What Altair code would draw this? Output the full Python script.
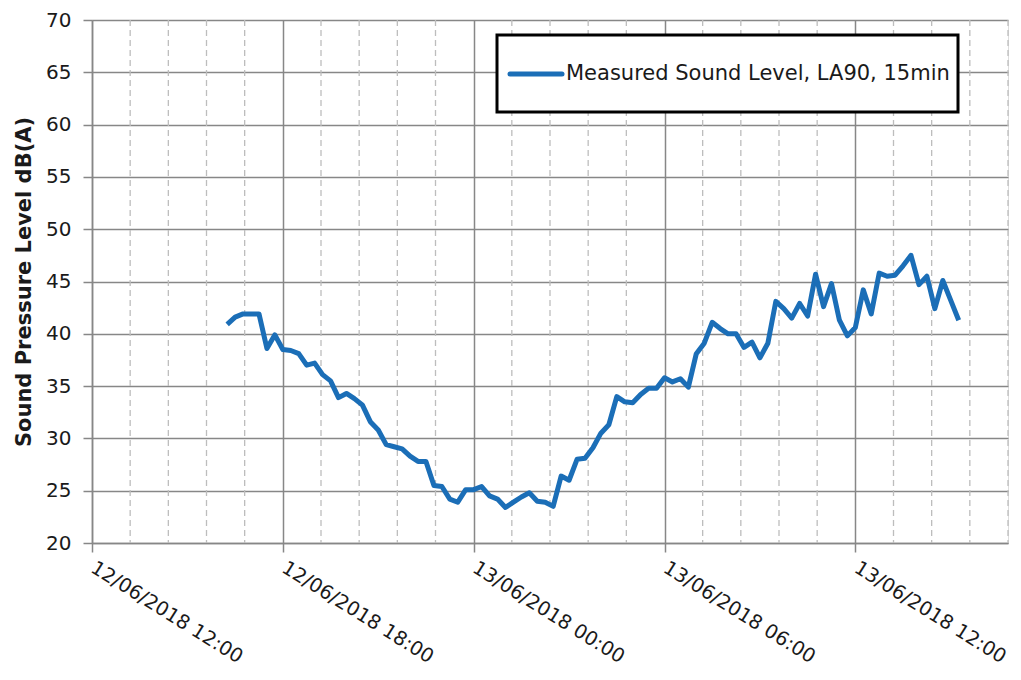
import altair as alt
import pandas as pd

# 15-minute LA90 levels, 12/06/2018 16:15 -> 13/06/2018 15:15
levels = [40.9, 41.6, 41.9, 41.9, 41.9, 38.6, 39.9, 38.5, 38.4, 38.1,
          37.0, 37.2, 36.1, 35.5, 33.9, 34.3, 33.8, 33.2, 31.6, 30.8,
          29.4, 29.2, 29.0, 28.3, 27.8, 27.8, 25.5, 25.4, 24.2, 23.9,
          25.1, 25.1, 25.4, 24.5, 24.2, 23.4, 23.9, 24.4, 24.8, 24.0,
          23.9, 23.5, 26.4, 26.0, 28.0, 28.1, 29.1, 30.5, 31.3, 34.0,
          33.5, 33.4, 34.2, 34.8, 34.8, 35.8, 35.4, 35.7, 34.9, 38.1,
          39.1, 41.1, 40.5, 40.0, 40.0, 38.7, 39.2, 37.7, 39.1, 43.1,
          42.4, 41.5, 42.9, 41.7, 45.7, 42.6, 44.8, 41.3, 39.8, 40.6,
          44.2, 41.9, 45.8, 45.5, 45.6, 46.5, 47.5, 44.7, 45.5, 42.4,
          45.1, 43.2, 41.3]
start_time = "2018-06-12 16:15"
times = [t.strftime("%Y-%m-%dT%H:%M:%S")
         for t in pd.date_range(start_time, periods=len(levels), freq="15min")]

major_ticks = ["2018-06-12T12:00:00", "2018-06-12T18:00:00", "2018-06-13T00:00:00",
               "2018-06-13T06:00:00", "2018-06-13T12:00:00"]
minor_all = [t.strftime("%Y-%m-%dT%H:%M:%S")
             for t in pd.date_range("2018-06-12 12:00", "2018-06-13 16:48", freq="72min")]
minor_ticks = [t for t in minor_all if t not in major_ticks]
y_ticks = [20, 25, 30, 35, 40, 45, 50, 55, 60, 65, 70]
series_name = "Measured Sound Level, LA90, 15min"

df = pd.DataFrame({"t": times, "level": levels})
minor_df = pd.DataFrame({"t": minor_ticks})
leg_df = pd.DataFrame({"label": [series_name]})

FONT = "DejaVu Sans"
GRID = "#878787"
BLUE = "#1B6EB7"
TXT = "#1a1a1a"

xscale = alt.Scale(domain=[alt.DateTime(year=2018, month=6, date=12, hours=12),
                           alt.DateTime(year=2018, month=6, date=13, hours=16, minutes=48)])
xaxis = alt.Axis(
    values=[alt.DateTime(year=2018, month=6, date=12, hours=12),
            alt.DateTime(year=2018, month=6, date=12, hours=18),
            alt.DateTime(year=2018, month=6, date=13, hours=0),
            alt.DateTime(year=2018, month=6, date=13, hours=6),
            alt.DateTime(year=2018, month=6, date=13, hours=12)],
    format="%d/%m/%Y %H:%M", title=None, labelAngle=32, labelAlign="left",
    labelBaseline="top", labelPadding=6, labelOffset=5, labelFontSize=19.5, labelFont=FONT,
    labelColor=TXT, grid=True, gridColor=GRID, gridWidth=1.5,
    domainColor=GRID, domainWidth=1.5, tickColor=GRID, tickSize=9, tickWidth=1.5,
    labelOverlap=False, labelFlush=False, labelBound=False)
yscale = alt.Scale(domain=[20, 70], nice=False, zero=False)
yaxis = alt.Axis(values=y_ticks, title="Sound Pressure Level dB(A)",
                 titleFontSize=21, titleFont=FONT, titleFontWeight="bold",
                 titleColor=TXT, titlePadding=11,
                 labelFontSize=20, labelFont=FONT, labelColor=TXT, labelPadding=12,
                 grid=True, gridColor=GRID, gridWidth=1.5, domainColor=GRID, domainWidth=1.5,
                 tickColor=GRID, tickSize=9, tickWidth=1.5)

minor = alt.Chart(minor_df).mark_rule(color="#BDBDBD", strokeDash=[6, 4], strokeWidth=1.3).encode(
    x=alt.X("t:T", scale=xscale, axis=xaxis))

line = alt.Chart(df).mark_line(color=BLUE, strokeWidth=5, strokeJoin="round").encode(
    x=alt.X("t:T", scale=xscale, axis=xaxis),
    y=alt.Y("level:Q", scale=yscale, axis=yaxis))

leg_box = alt.Chart(leg_df).mark_rect(fill="white", stroke="black", strokeWidth=3).encode(
    x=alt.value(405), x2=alt.value(866), y=alt.value(15), y2=alt.value(92))
leg_line = alt.Chart(leg_df).mark_rule(color=BLUE, strokeWidth=5, strokeCap="round").encode(
    x=alt.value(418), x2=alt.value(470), y=alt.value(54))
leg_text = alt.Chart(leg_df).mark_text(align="left", baseline="middle", fontSize=21,
                                       font=FONT, color=TXT).encode(
    x=alt.value(474), y=alt.value(54), text="label:N")

chart = alt.layer(minor, line, leg_box, leg_line, leg_text).properties(
    width=916, height=523,
    autosize=alt.AutoSizeParams(type="none"),
    padding={"left": 84, "top": 12, "right": 5, "bottom": 129},
).configure_view(stroke=None).configure(background="white")

chart.save("out.html", embed_options={"renderer": "svg", "actions": False})
